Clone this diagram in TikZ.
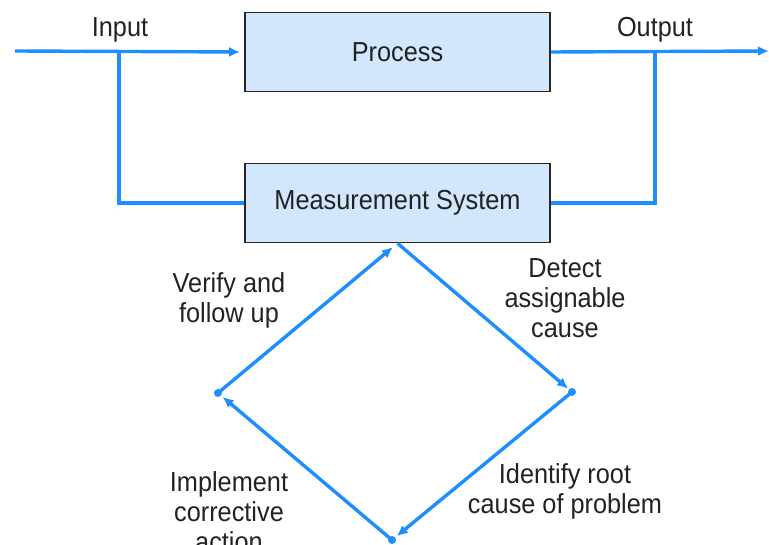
\documentclass[tikz,border=0pt]{standalone}
\usepackage{fontspec}
\setmainfont{Liberation Sans}[FakeStretch=0.92]
\usetikzlibrary{arrows.meta}
\definecolor{lineblue}{HTML}{1E8EFF}
\definecolor{boxfill}{HTML}{D2E7FB}
\definecolor{txt}{HTML}{222222}
\tikzset{
  box/.style={draw=black!85, line width=1.6pt, fill=boxfill, minimum width=305pt, minimum height=79pt, inner sep=0pt, text=txt},
  conn/.style={draw=lineblue, line width=3.4pt},
  arr/.style={conn, -{Latex[length=11pt,width=10pt]}},
  lbl/.style={text=txt, align=center, inner sep=0pt},
  vdot/.style={circle, fill=lineblue, inner sep=0pt, minimum size=8pt}
}
\begin{document}
\begin{tikzpicture}[x=1pt,y=-1pt, font=\fontsize{27.5}{30}\selectfont]
\useasboundingbox (0,0) rectangle (769,545);
\node[box] (proc) at (397.5,52) {Process};
\node[box] (meas) at (397.5,203) {Measurement System};
% input side
\coordinate (inS) at (15,51);
\coordinate (inB) at (119,51);
\coordinate (inL) at (119,203);
\draw[arr, shorten >=4pt] (inS) -- (proc.west);
\draw[conn] (inB) -- (inL) -- (meas.west);
% output side
\coordinate (outE) at (769,51);
\coordinate (outB) at (655,51);
\coordinate (outL) at (655,203);
\draw[arr] (proc.east) -- (outE);
\draw[conn] (outB) -- (outL) -- (meas.east);
\node[lbl] (inlbl) at (120,30) {Input};
\node[lbl] (outlbl) at (655,30) {Output};
% diamond
\coordinate (dT) at (meas.south);
\node[vdot] (dR) at (572,392) {};
\node[vdot] (dB) at (392,540) {};
\node[vdot] (dL) at (218,393) {};
\draw[arr, shorten >=5pt] (dT) -- (dR.center);
\draw[arr, shorten >=6pt] (dR.center) -- (dB.center);
\draw[arr, shorten >=6pt] (dB.center) -- (dL.center);
\draw[arr, shorten >=6pt] (dL.center) -- (dT);
% labels
\node[lbl] (verify) at (229,300) {Verify and\\follow up};
\node[lbl] (detect) at (565,298) {Detect\\assignable\\cause};
\node[lbl] (identify) at (565,491) {Identify root\\cause of problem};
\node[lbl] (implement) at (229,512) {Implement\\corrective\\action};
\end{tikzpicture}
\end{document}
